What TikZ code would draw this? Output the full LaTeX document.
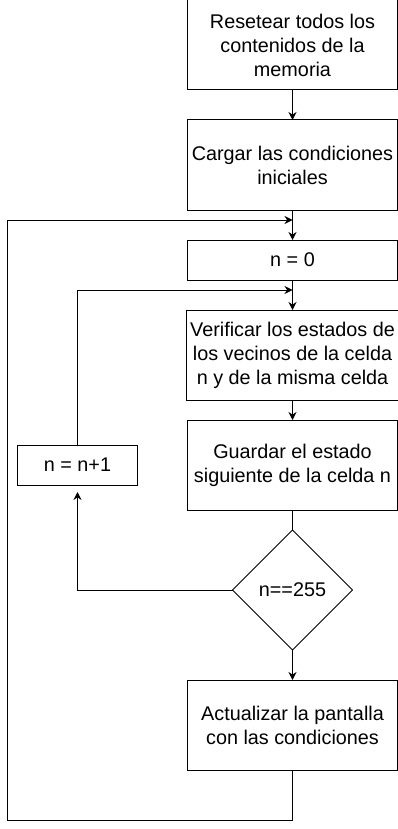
\documentclass[tikz,border=0pt]{standalone}
\usepackage{fontspec}
\setmainfont{Liberation Sans}
\usetikzlibrary{shapes.geometric,arrows.meta,positioning}
\tikzstyle{process} = [rectangle, minimum width=210pt, minimum height=90pt, text centered, align=center, draw=black, line width=1pt, outer sep=0pt]
\tikzstyle{short} = [process, minimum height=40pt]
\tikzstyle{counter} = [rectangle, minimum width=120pt, minimum height=40pt, text centered, draw=black, line width=1pt, outer sep=0pt]
\tikzstyle{decision} = [diamond, minimum width=120pt, minimum height=120pt, inner sep=0pt, text centered, draw=black, line width=1pt, outer sep=0pt]
\tikzstyle{arrow} = [line width=1pt,-{Stealth[length=8pt,width=8pt]}]
\tikzstyle{line} = [line width=1pt]

\begin{document}
\begin{tikzpicture}[x=1pt,y=-1pt,node distance=30pt,every node/.style={font=\fontsize{19.8}{24}\selectfont}]
	\useasboundingbox (0,0) rectangle (398,829);

	\node (reset) [process] at (292.5,45) {Resetear todos los\\contenidos de la\\memoria};
	\node (load) [process,below=of reset] {Cargar las condiciones\\iniciales};
	\node (init) [short,below=of load] {n = 0};
	\node (check) [process,below=of init] {Verificar los estados de\\los vecinos de la celda\\n y de la misma celda};
	\node (store) [process,below=20pt of check] {Guardar el estado\\siguiente de la celda n};
	\node (test) [decision,below=20pt of store] {n==255};
	\node (update) [process,below=of test] {Actualizar la pantalla\\con las condiciones};
	\node (inc) [counter,left=50pt of store] {n = n+1};

	% entry points of the two loops
	\coordinate (outerin) at (292.5,220);
	\coordinate (innerin) at (292.5,290);
	\coordinate (outerbot) at (7.5,820);

	\draw [arrow] (reset) -- (load);
	\draw [arrow] (load) -- (init);
	\draw [arrow] (init) -- (check);
	\draw [arrow] (check) -- (store);
	\draw [line] (store) -- (test);
	\draw [arrow] (test) -- (update);

	\draw [arrow] (test.west) -| ([yshift=-7pt]inc.south);
	\draw [arrow] (inc.north) |- (innerin);
	\draw [arrow] (update.south) |- (outerbot) |- (outerin);

\end{tikzpicture}
\end{document}
